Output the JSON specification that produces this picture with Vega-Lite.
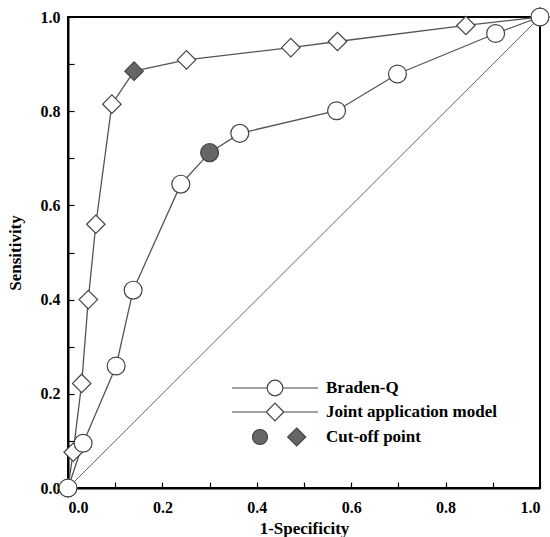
{
  "$schema": "https://vega.github.io/schema/vega-lite/v6.json",
  "autosize": "none",
  "padding": {"left": 68, "top": 17, "right": 10, "bottom": 49},
  "width": 472,
  "height": 471,
  "background": "white",
  "config": {
    "view": {"stroke": "black", "strokeWidth": 2},
    "axis": {
      "grid": false,
      "domainColor": "black",
      "domainWidth": 2,
      "ticks": true,
      "tickColor": "black",
      "tickWidth": 1.2,
      "tickSize": -6,
      "labelFont": "Liberation Serif",
      "labelFontWeight": "bold",
      "labelFontSize": 16,
      "labelColor": "black",
      "titleFont": "Liberation Serif",
      "titleFontWeight": "bold",
      "titleFontSize": 17,
      "titleColor": "black"
    }
  },
  "datasets": {
    "roc": [
      {"series": "Braden-Q", "fpr": 0.0, "tpr": 0.0, "cut": false},
      {"series": "Braden-Q", "fpr": 0.032, "tpr": 0.095, "cut": false},
      {"series": "Braden-Q", "fpr": 0.102, "tpr": 0.259, "cut": false},
      {"series": "Braden-Q", "fpr": 0.138, "tpr": 0.42, "cut": false},
      {"series": "Braden-Q", "fpr": 0.239, "tpr": 0.645, "cut": false},
      {"series": "Braden-Q", "fpr": 0.30, "tpr": 0.712, "cut": true},
      {"series": "Braden-Q", "fpr": 0.364, "tpr": 0.753, "cut": false},
      {"series": "Braden-Q", "fpr": 0.569, "tpr": 0.801, "cut": false},
      {"series": "Braden-Q", "fpr": 0.698, "tpr": 0.879, "cut": false},
      {"series": "Braden-Q", "fpr": 0.906, "tpr": 0.965, "cut": false},
      {"series": "Braden-Q", "fpr": 1.0, "tpr": 1.0, "cut": false},
      {"series": "Joint application model", "fpr": 0.0, "tpr": 0.0, "cut": false},
      {"series": "Joint application model", "fpr": 0.011, "tpr": 0.076, "cut": false},
      {"series": "Joint application model", "fpr": 0.029, "tpr": 0.222, "cut": false},
      {"series": "Joint application model", "fpr": 0.043, "tpr": 0.40, "cut": false},
      {"series": "Joint application model", "fpr": 0.059, "tpr": 0.56, "cut": false},
      {"series": "Joint application model", "fpr": 0.093, "tpr": 0.815, "cut": false},
      {"series": "Joint application model", "fpr": 0.140, "tpr": 0.885, "cut": true},
      {"series": "Joint application model", "fpr": 0.251, "tpr": 0.909, "cut": false},
      {"series": "Joint application model", "fpr": 0.472, "tpr": 0.935, "cut": false},
      {"series": "Joint application model", "fpr": 0.571, "tpr": 0.948, "cut": false},
      {"series": "Joint application model", "fpr": 0.843, "tpr": 0.982, "cut": false},
      {"series": "Joint application model", "fpr": 1.0, "tpr": 1.0, "cut": false},
      {"series": "Reference", "fpr": 0.0, "tpr": 0.0, "cut": false},
      {"series": "Reference", "fpr": 1.0, "tpr": 1.0, "cut": false}
    ],
    "legendEntries": [
      {"entry": "Braden-Q"},
      {"entry": "Joint application model"},
      {"entry": "Cut-off point"}
    ]
  },
  "layer": [
    {
      "data": {"name": "roc"},
      "transform": [{"filter": "datum.series === 'Reference'"}],
      "mark": {"type": "line", "color": "#666", "strokeWidth": 1, "clip": true},
      "encoding": {
        "x": {
          "field": "fpr", "type": "quantitative",
          "scale": {"domain": [0, 1], "nice": false, "zero": false},
          "axis": {
            "title": "1-Specificity",
            "values": [0, 0.1, 0.2, 0.3, 0.4, 0.5, 0.6, 0.7, 0.8, 0.9, 1.0],
            "labelExpr": "round(datum.value*10) % 2 == 0 ? format(datum.value, '.1f') : ''",
            "labelPadding": 17,
            "titlePadding": 5
          }
        },
        "y": {
          "field": "tpr", "type": "quantitative",
          "scale": {"domain": [0, 1], "nice": false, "zero": false},
          "axis": {
            "title": "Sensitivity",
            "values": [0, 0.1, 0.2, 0.3, 0.4, 0.5, 0.6, 0.7, 0.8, 0.9, 1.0],
            "labelExpr": "round(datum.value*10) % 2 == 0 ? format(datum.value, '.1f') : ''",
            "labelPadding": 14,
            "titlePadding": 16
          }
        }
      }
    },
    {
      "data": {"name": "roc"},
      "transform": [{"filter": "datum.series !== 'Reference'"}],
      "mark": {"type": "line", "color": "#555", "strokeWidth": 1.3},
      "encoding": {
        "x": {"field": "fpr", "type": "quantitative"},
        "y": {"field": "tpr", "type": "quantitative"},
        "detail": {"field": "series"}
      }
    },
    {
      "data": {"name": "roc"},
      "transform": [{"filter": "datum.series === 'Joint application model'"}],
      "mark": {"type": "point", "shape": "diamond", "size": 340, "filled": true, "stroke": "#444", "strokeWidth": 1.2, "opacity": 1},
      "encoding": {
        "x": {"field": "fpr", "type": "quantitative"},
        "y": {"field": "tpr", "type": "quantitative"},
        "fill": {"condition": {"test": "datum.cut", "value": "#666"}, "value": "white"}
      }
    },
    {
      "data": {"name": "roc"},
      "transform": [{"filter": "datum.series === 'Braden-Q'"}],
      "mark": {"type": "point", "shape": "circle", "size": 320, "filled": true, "stroke": "#444", "strokeWidth": 1.2, "opacity": 1},
      "encoding": {
        "x": {"field": "fpr", "type": "quantitative"},
        "y": {"field": "tpr", "type": "quantitative"},
        "fill": {"condition": {"test": "datum.cut", "value": "#666"}, "value": "white"}
      }
    },
    {
      "data": {"name": "legendEntries"},
      "mark": {"type": "point", "filled": true, "opacity": 0, "strokeWidth": 1.2},
      "encoding": {
        "shape": {
          "field": "entry", "type": "nominal",
          "scale": {
            "domain": ["Braden-Q", "Joint application model", "Cut-off point"],
            "range": [
              "M-4.3,0H-0.78M0.78,0H4.3M0.78,0A0.78,0.78,0,1,1,-0.78,0A0.78,0.78,0,1,1,0.78,0Z",
              "M-4.3,0H-0.88M0.88,0H4.3M0.88,0L0,-0.88L-0.88,0L0,0.88Z",
              "M-0.75,0A0.75,0.75,0,1,1,-2.25,0A0.75,0.75,0,1,1,-0.75,0ZM2.17,-0.9L3.07,0L2.17,0.9L1.27,0Z"
            ]
          },
          "legend": {
            "title": null,
            "orient": "none",
            "legendX": 196,
            "legendY": 360,
            "symbolSize": 400,
            "symbolOpacity": 1,
            "symbolStrokeColor": "#444",
            "symbolStrokeWidth": 1.2,
            "labelFont": "Liberation Serif",
            "labelFontWeight": "bold",
            "labelFontSize": 17,
            "labelColor": "black",
            "labelOffset": 40,
            "labelLimit": 400,
            "rowPadding": 1,
            "encode": {
              "symbols": {
                "update": {
                  "stroke": {"value": "#444"},
                  "strokeWidth": {"value": 1.2},
                  "opacity": {"value": 1}
                }
              }
            }
          }
        },
        "fill": {
          "field": "entry", "type": "nominal",
          "scale": {
            "domain": ["Braden-Q", "Joint application model", "Cut-off point"],
            "range": ["white", "white", "#666"]
          }
        },
        "stroke": {
          "field": "entry", "type": "nominal",
          "scale": {
            "domain": ["Braden-Q", "Joint application model", "Cut-off point"],
            "range": ["#444", "#444", "#444"]
          }
        }
      }
    }
  ]
}
